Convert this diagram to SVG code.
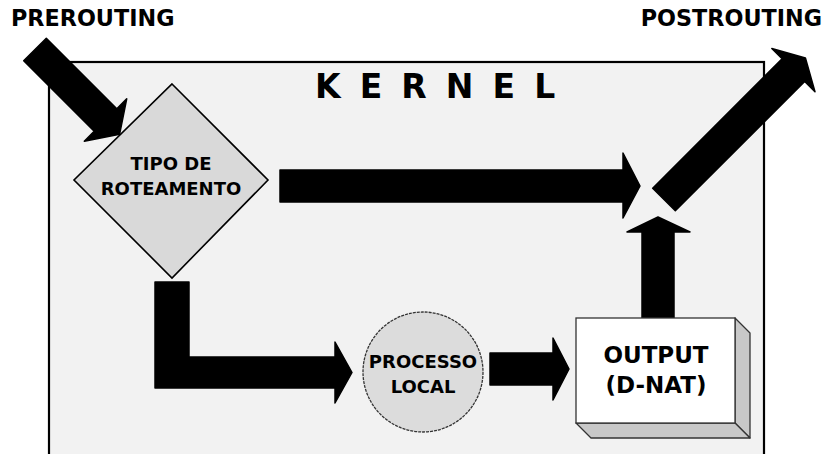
<svg xmlns="http://www.w3.org/2000/svg" width="827" height="454" viewBox="0 0 827 454">
  <style>
    .lbl { font-family: "DejaVu Sans", Verdana, sans-serif; font-weight: bold; fill: #000; }
    .arrow { fill: #000; stroke: #000; stroke-width: 1.5; stroke-linejoin: round; }
  </style>
  <rect x="0" y="0" width="827" height="454" fill="#fff"/>

  <!-- kernel frame -->
  <g id="kernel">
    <rect x="49" y="62" width="715" height="430" fill="#f2f2f2" stroke="#000" stroke-width="2.2"/>
    <text class="lbl" x="315" y="98" font-size="33" letter-spacing="3.8">K E R N E L</text>
  </g>

  <!-- hook labels -->
  <g id="prerouting">
    <text class="lbl" x="11" y="26" font-size="22.3">PREROUTING</text>
  </g>
  <g id="postrouting">
    <text class="lbl" x="822" y="26" font-size="22.3" text-anchor="end">POSTROUTING</text>
  </g>

  <!-- connectors -->
  <g id="connectors">
    <polygon class="arrow" transform="translate(35,49.5) rotate(45)" points="0,-16 99.7,-16 99.7,-30 119.7,0 99.7,30 99.7,16 0,16"/>
    <polygon class="arrow" points="280,170 623,170 623,153 640,186 623,218 623,202 280,202"/>
    <polygon class="arrow" transform="translate(664,199.5) rotate(-45)" points="0,-16 183,-16 183,-30.5 200,0 183,30.5 183,16 0,16"/>
    <polygon class="arrow" points="155,282 189,282 189,357 335,357 335,342 352,372.5 335,403 335,388 155,388"/>
    <polygon class="arrow" points="490,353 553,353 553,338 569,369 553,400 553,385 490,385"/>
    <polygon class="arrow" points="642,318 642,232 627,232 658,217 690,232 674,232 674,318"/>
  </g>

  <!-- routing decision -->
  <g id="tipo-roteamento">
    <polygon points="172,84 268,180 172,278 74,180" fill="#d9d9d9" stroke="#000" stroke-width="1.6"/>
    <text class="lbl" x="171" y="170" font-size="18" text-anchor="middle">TIPO DE</text>
    <text class="lbl" x="171" y="195" font-size="18" text-anchor="middle">ROTEAMENTO</text>
  </g>

  <!-- local process -->
  <g id="processo-local">
    <circle cx="423" cy="372" r="60" fill="#dcdcdc" stroke="#333" stroke-width="1.3" stroke-dasharray="3 1"/>
    <text class="lbl" x="423" y="368" font-size="18" text-anchor="middle">PROCESSO</text>
    <text class="lbl" x="423" y="393" font-size="18" text-anchor="middle">LOCAL</text>
  </g>

  <!-- output chain -->
  <g id="output">
    <polygon points="735,318 750,333 750,438 735,423" fill="#c8c8c8" stroke="#333" stroke-width="1.3" stroke-linejoin="round"/>
    <polygon points="576,423 591,438 750,438 735,423" fill="#c8c8c8" stroke="#333" stroke-width="1.3" stroke-linejoin="round"/>
    <rect x="576" y="318" width="159" height="105" fill="#fff" stroke="#333" stroke-width="1.3"/>
    <text class="lbl" x="656" y="363" font-size="23" text-anchor="middle">OUTPUT</text>
    <text class="lbl" x="656" y="393" font-size="23" text-anchor="middle">(D-NAT)</text>
  </g>
</svg>
